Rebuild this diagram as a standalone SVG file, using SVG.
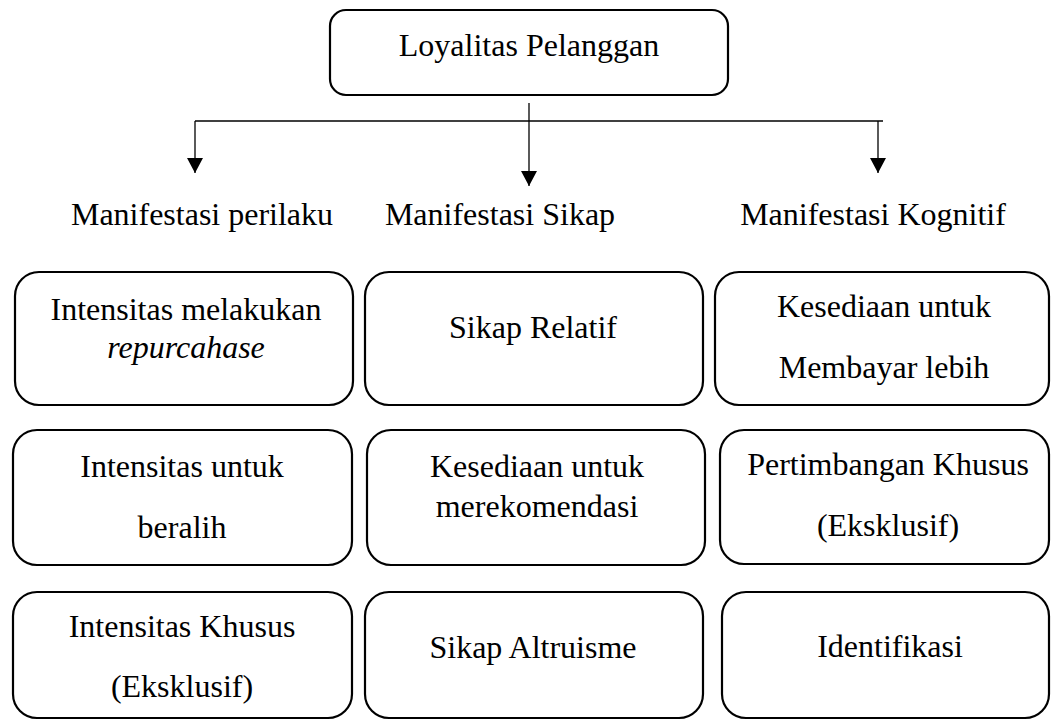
<svg xmlns="http://www.w3.org/2000/svg" width="1053" height="720" viewBox="0 0 1053 720">
<style>
.box{fill:#fff;stroke:#000;stroke-width:2.2}
.t{font-family:"Liberation Serif","Times New Roman",serif;font-size:32px;fill:#000;text-anchor:middle}
.i{font-style:italic}
.c{fill:none;stroke:#000;stroke-width:1.3}
</style>
<defs>
<marker id="ah" markerUnits="userSpaceOnUse" markerWidth="16" markerHeight="16" refX="15" refY="8" orient="auto">
<path d="M0,0 L15,8 L0,16 z" fill="#000"/>
</marker>
</defs>
<rect width="1053" height="720" fill="#fff"/>
<g id="connectors">
<line class="c" x1="195" y1="121" x2="883" y2="121"/>
<line class="c" x1="529" y1="103" x2="529" y2="186" marker-end="url(#ah)"/>
<line class="c" x1="195" y1="121" x2="195" y2="173" marker-end="url(#ah)"/>
<line class="c" x1="878" y1="121" x2="878" y2="173" marker-end="url(#ah)"/>
</g>
<g id="root">
<rect class="box" x="330" y="10" width="398" height="85" rx="16"/>
<text class="t" x="529" y="56">Loyalitas Pelanggan</text>
</g>
<g id="h1"><text class="t" x="202" y="225">Manifestasi perilaku</text></g>
<g id="h2"><text class="t" x="500" y="225">Manifestasi Sikap</text></g>
<g id="h3"><text class="t" x="873" y="225">Manifestasi Kognitif</text></g>
<g id="r1c1">
<rect class="box" x="15" y="272" width="338" height="133" rx="24"/>
<text class="t" x="186" y="320">Intensitas melakukan</text>
<text class="t i" x="186" y="358">repurcahase</text>
</g>
<g id="r1c2">
<rect class="box" x="365" y="272" width="338" height="133" rx="24"/>
<text class="t" x="533" y="338">Sikap Relatif</text>
</g>
<g id="r1c3">
<rect class="box" x="715" y="272" width="334" height="133" rx="24"/>
<text class="t" x="884" y="317">Kesediaan untuk</text>
<text class="t" x="884" y="378">Membayar lebih</text>
</g>
<g id="r2c1">
<rect class="box" x="13" y="430" width="339" height="135" rx="24"/>
<text class="t" x="182" y="477">Intensitas untuk</text>
<text class="t" x="182" y="538">beralih</text>
</g>
<g id="r2c2">
<rect class="box" x="367" y="430" width="338" height="135" rx="24"/>
<text class="t" x="537" y="477">Kesediaan untuk</text>
<text class="t" x="537" y="517">merekomendasi</text>
</g>
<g id="r2c3">
<rect class="box" x="720" y="430" width="329" height="134" rx="24"/>
<text class="t" x="888" y="475">Pertimbangan Khusus</text>
<text class="t" x="888" y="536">(Eksklusif)</text>
</g>
<g id="r3c1">
<rect class="box" x="13" y="592" width="339" height="126" rx="24"/>
<text class="t" x="182" y="637">Intensitas Khusus</text>
<text class="t" x="182" y="697">(Eksklusif)</text>
</g>
<g id="r3c2">
<rect class="box" x="365" y="592" width="338" height="126" rx="24"/>
<text class="t" x="533" y="658">Sikap Altruisme</text>
</g>
<g id="r3c3">
<rect class="box" x="722" y="592" width="327" height="126" rx="24"/>
<text class="t" x="890" y="657">Identifikasi</text>
</g>
</svg>
